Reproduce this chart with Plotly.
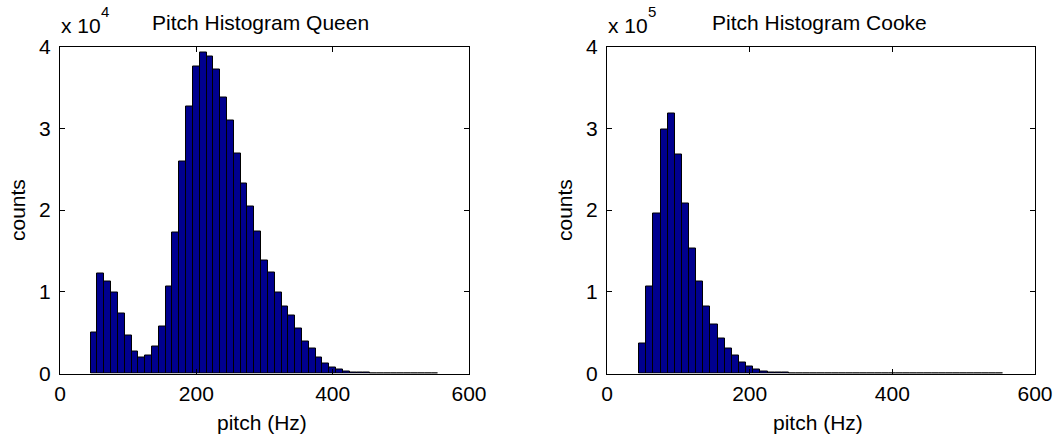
import plotly.graph_objects as go

# ---- data ----
pitch_bins = [50 + 10 * i for i in range(51)]  # bin centres (Hz), 10 Hz bins

queen_counts = [5000, 12200, 11300, 9900, 7300, 4600, 2700, 2000, 2200, 3300,
                5800, 10700, 17200, 25900, 32700, 37600, 39300, 38800, 37200, 33800,
                30900, 26900, 23300, 20400, 17400, 13800, 12300, 9900, 8200, 7100,
                5500, 3900, 3000, 1900, 1200, 700, 500, 300, 150, 100,
                80, 60, 50, 40, 30, 30, 20, 20, 20, 10, 10]

cooke_counts = [37000, 107000, 196000, 299000, 318000, 268000, 208000, 153000, 112000, 82000,
                60000, 43000, 31000, 22000, 14000, 9000, 5000, 3000, 1500, 1000,
                800, 600, 500, 400, 350, 300, 250, 200, 200, 150,
                150, 120, 100, 100, 80, 80, 60, 60, 50, 50,
                40, 40, 30, 30, 20, 20, 20, 15, 10, 10, 10]

x_ticks = [0, 200, 400, 600]
y_tick_units = [0, 1, 2, 3, 4]
queen_scale = 1e4
cooke_scale = 1e5
exponents = ["4", "5"]

titles = ["Pitch Histogram Queen", "Pitch Histogram Cooke"]
x_label = "pitch (Hz)"
y_label = "counts"

# ---- figure ----
W, H = 1060, 435
FONT = "Liberation Sans, Arial, Helvetica, sans-serif"
FS = 21
BAR_COLOR = "#00008F"

fig = go.Figure()
fig.add_trace(go.Bar(x=pitch_bins, y=queen_counts, width=10,
                     marker=dict(color=BAR_COLOR, line=dict(color="black", width=1)),
                     xaxis="x", yaxis="y", showlegend=False))
fig.add_trace(go.Bar(x=pitch_bins, y=cooke_counts, width=10,
                     marker=dict(color=BAR_COLOR, line=dict(color="black", width=1)),
                     xaxis="x2", yaxis="y2", showlegend=False))

L1, R1 = 60, 469
L2, R2 = 607, 1035
TOP, BOT = 46.5, 373.5

def px(x):
    return x / W

def py(y):
    return 1 - y / H

common_axis = dict(showline=True, linecolor="black", linewidth=1, mirror="allticks",
                   ticks="inside", ticklen=5, tickcolor="black", showgrid=False,
                   zeroline=False, automargin=False,
                   tickfont=dict(family=FONT, size=FS, color="black"))

fig.update_layout(
    width=W, height=H, autosize=False,
    margin=dict(l=0, r=0, t=0, b=0, pad=0, autoexpand=False),
    paper_bgcolor="white", plot_bgcolor="white",
    bargap=0,
    font=dict(family=FONT, size=FS, color="black"),
    xaxis=dict(domain=[px(L1), px(R1)], range=[0, 600], tickvals=x_ticks,
               anchor="y", ticklabelstandoff=1, **common_axis),
    yaxis=dict(domain=[py(BOT), py(TOP)], range=[0, 4 * queen_scale],
               tickvals=[v * queen_scale for v in y_tick_units],
               ticktext=[str(v) for v in y_tick_units], anchor="x",
               ticklabelstandoff=4, **common_axis),
    xaxis2=dict(domain=[px(L2), px(R2)], range=[0, 600], tickvals=x_ticks,
                anchor="y2", ticklabelstandoff=1, **common_axis),
    yaxis2=dict(domain=[py(BOT), py(TOP)], range=[0, 4 * cooke_scale],
                tickvals=[v * cooke_scale for v in y_tick_units],
                ticktext=[str(v) for v in y_tick_units], anchor="x2",
                ticklabelstandoff=4, **common_axis),
)

ann = []
for (L, R, title, exp, dx) in [(L1, R1, titles[0], exponents[0], -4),
                               (L2, R2, titles[1], exponents[1], -2)]:
    cx = (L + R) / 2
    ann.append(dict(x=px(cx + dx), y=py(22), xref="paper", yref="paper", text=title,
                    showarrow=False, xanchor="center", yanchor="middle",
                    font=dict(family=FONT, size=FS)))
    ann.append(dict(x=px(L - 1), y=py(26), xref="paper", yref="paper",
                    text="x 10", showarrow=False,
                    xanchor="left", yanchor="middle", font=dict(family=FONT, size=FS)))
    ann.append(dict(x=px(L + 39), y=py(11), xref="paper", yref="paper",
                    text=exp, showarrow=False,
                    xanchor="left", yanchor="middle", font=dict(family=FONT, size=15)))
    ann.append(dict(x=px(cx - 3), y=py(422), xref="paper", yref="paper", text=x_label,
                    showarrow=False, xanchor="center", yanchor="middle",
                    font=dict(family=FONT, size=FS)))
    ann.append(dict(x=px(L - 43), y=py((TOP + BOT) / 2), xref="paper", yref="paper",
                    text=y_label, textangle=-90, showarrow=False,
                    xanchor="center", yanchor="middle", font=dict(family=FONT, size=FS)))
fig.update_layout(annotations=ann)

fig.write_html("out.html")
